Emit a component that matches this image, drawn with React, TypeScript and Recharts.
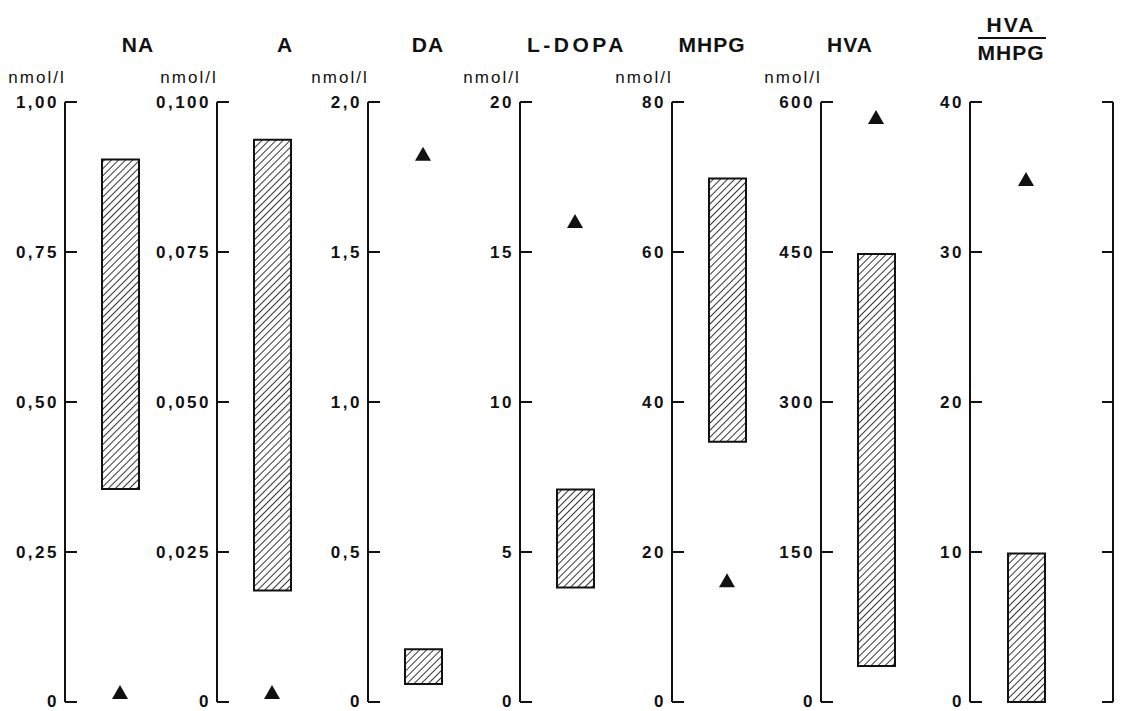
import React from 'react';
import { ComposedChart, Bar, Scatter, XAxis, YAxis } from 'recharts';

// one panel per substance, values in the panel's own unit
const panelNames = ['NA', 'A', 'DA', 'L-DOPA', 'MHPG', 'HVA', 'HVA/MHPG'];
const units = ['nmol/l', 'nmol/l', 'nmol/l', 'nmol/l', 'nmol/l', 'nmol/l', ''];
const rangeLow = [0.355, 0.0186, 0.06, 3.82, 34.7, 36, 0];
const rangeHigh = [0.904, 0.0937, 0.176, 7.08, 69.8, 448, 9.9];
const patientValue = [0.015, 0.0015, 1.824, 16.0, 16.1, 584, 34.8];
const tickValues = [
  [0, 0.25, 0.5, 0.75, 1],
  [0, 0.025, 0.05, 0.075, 0.1],
  [0, 0.5, 1, 1.5, 2],
  [0, 5, 10, 15, 20],
  [0, 20, 40, 60, 80],
  [0, 150, 300, 450, 600],
  [0, 10, 20, 30, 40],
];
const tickLabels = [
  ['0', '0,25', '0,50', '0,75', '1,00'],
  ['0', '0,025', '0,050', '0,075', '0,100'],
  ['0', '0,5', '1,0', '1,5', '2,0'],
  ['0', '5', '10', '15', '20'],
  ['0', '20', '40', '60', '80'],
  ['0', '150', '300', '450', '600'],
  ['0', '10', '20', '30', '40'],
];

const axisX = [65, 217, 368, 520, 672, 821, 970];
const AXIS_W = 70;
const TOP = 102;
const BOTTOM = 702;
const FONT = '"Liberation Sans", Arial, sans-serif';

const makeTick = (labels: string[], values: number[], side: 'left' | 'right') => (props: any) => {
  const { x, y, payload } = props;
  const i = values.indexOf(payload.value);
  if (side === 'right') {
    return <line x1={x - 11} y1={y} x2={x} y2={y} stroke="#111" strokeWidth={2} />;
  }
  return (
    <g>
      <line x1={x} y1={y} x2={x + 12} y2={y} stroke="#111" strokeWidth={2} />
      <text x={x - 6} y={i === 0 ? y + 5 : y + 6} textAnchor="end" fontSize={17} fontFamily={FONT}
        fontWeight="bold" letterSpacing={2.5} fill="#111">
        {labels[i]}
      </text>
    </g>
  );
};

const Triangle = (props: any) => {
  const { cx, cy } = props;
  if (cx == null || cy == null) return null;
  return <polygon points={`${cx},${cy - 8} ${cx + 8},${cy + 6} ${cx - 8},${cy + 6}`} fill="#111" />;
};

const Nothing = () => null;

const Panel: React.FC<{ idx: number }> = ({ idx }) => {
  const last = idx === panelNames.length - 1;
  const plotW = last ? 143 : 110;
  const data = [{ name: panelNames[idx], range: [rangeLow[idx], rangeHigh[idx]], value: patientValue[idx] }];
  const ticks = tickValues[idx];
  const domain = [ticks[0], ticks[ticks.length - 1]];
  return (
    <div style={{ position: 'absolute', left: axisX[idx] - AXIS_W, top: 0 }}>
      <ComposedChart
        width={AXIS_W + plotW + (last ? 4 : 0)}
        height={711}
        data={data}
        margin={{ top: TOP, right: 0, bottom: 711 - BOTTOM, left: 0 }}
      >
        <defs>
          <pattern id={`hatch${idx}`} patternUnits="userSpaceOnUse" width="5" height="5" patternTransform="rotate(45)">
            <rect width="5" height="5" fill="#fff" />
            <line x1="0" y1="0" x2="0" y2="5" stroke="#111" strokeWidth="1.7" />
          </pattern>
        </defs>
        <XAxis dataKey="name" type="category" hide padding={last ? { left: 0, right: 31 } : undefined} />
        <YAxis
          yAxisId="l"
          width={AXIS_W}
          domain={domain}
          ticks={ticks}
          interval={0}
          tickSize={0}
          tickMargin={0}
          axisLine={{ stroke: '#111', strokeWidth: 2 }}
          tickLine={false}
          tick={makeTick(tickLabels[idx], ticks, 'left')}
        />
        {last && (
          <YAxis
            yAxisId="r"
            orientation="right"
            width={4}
            domain={domain}
            ticks={ticks}
            interval={0}
            tickSize={0}
            tickMargin={0}
            axisLine={{ stroke: '#111', strokeWidth: 2 }}
            tickLine={false}
            tick={makeTick(tickLabels[idx], ticks, 'right')}
          />
        )}
        <Bar
          yAxisId="l"
          dataKey="range"
          barSize={37}
          fill={`url(#hatch${idx})`}
          stroke="#111"
          strokeWidth={2}
          isAnimationActive={false}
        />
        <Scatter yAxisId="l" dataKey="value" shape={Triangle} isAnimationActive={false} />
        {last && <Scatter yAxisId="r" dataKey="value" shape={Nothing} isAnimationActive={false} />}
      </ComposedChart>
    </div>
  );
};

const titleX = [138, 285, 428, 577, 712, 850];
const titleSpacing = [1, 1, 1, 3.5, 1, 1];

export default function App() {
  return (
    <div style={{ position: 'absolute', left: 0, top: 0, width: 1122, height: 711, background: '#fff' }}>
      {panelNames.map((_, i) => (
        <Panel key={i} idx={i} />
      ))}
      <svg width={1122} height={711} style={{ position: 'absolute', left: 0, top: 0, pointerEvents: 'none' }}>
        <g fontFamily={FONT} fill="#111">
          {titleX.map((x, i) => (
            <text key={i} x={x} y={52} textAnchor="middle" fontSize={21} fontWeight="bold" letterSpacing={titleSpacing[i]}>
              {panelNames[i]}
            </text>
          ))}
          {units.map((u, i) =>
            u ? (
              <text key={'u' + i} x={axisX[i] - 28} y={83} textAnchor="middle" fontSize={17} letterSpacing={2}>
                {u}
              </text>
            ) : null
          )}
          <text x={1011} y={32} textAnchor="middle" fontSize={21} fontWeight="bold" letterSpacing={2}>HVA</text>
          <line x1={978} y1={38} x2={1046} y2={38} stroke="#111" strokeWidth={2} />
          <text x={1011} y={60} textAnchor="middle" fontSize={21} fontWeight="bold" letterSpacing={1}>MHPG</text>
        </g>
      </svg>
    </div>
  );
}
